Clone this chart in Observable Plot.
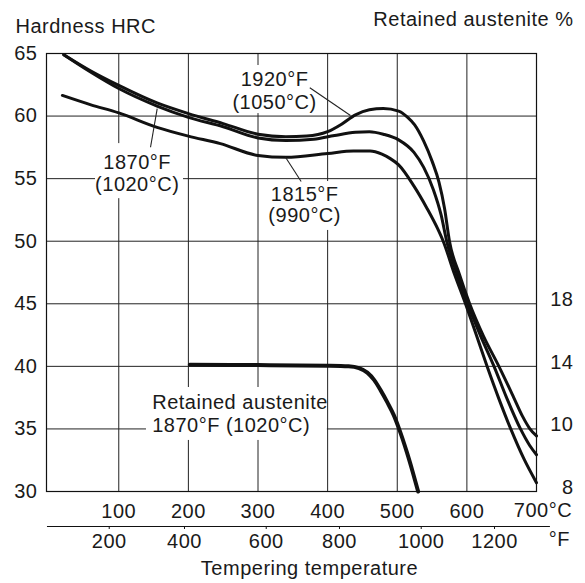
<!DOCTYPE html>
<html>
<head>
<meta charset="utf-8">
<script src="https://cdn.jsdelivr.net/npm/d3@7"></script>
<script src="https://cdn.jsdelivr.net/npm/@observablehq/plot@0.6"></script>
<style>
  html, body { margin: 0; padding: 0; background: #fff; }
</style>
</head>
<body>
<div id="chart"></div>
<script>
// ---------- data ----------
// Tempering temperature (°C) and hardness (HRC) for three austenitizing temperatures
const temp1920 = [21, 60, 100, 155, 200, 250, 300, 340, 370, 400, 420, 440, 460, 480, 502, 515, 525, 538, 550, 560, 568, 575, 589, 604, 624, 646, 667, 680, 690, 700];
const hrc1920  = [64.9, 63.6, 62.45, 61.05, 60.2, 59.4, 58.55, 58.35, 58.4, 58.75, 59.35, 60.1, 60.5, 60.6, 60.4, 59.9, 59.3, 58.0, 56.4, 54.7, 52.6, 50.0, 47.4, 45.0, 42.4, 40.0, 37.55, 36.0, 35.05, 34.44];

const temp1870 = [21, 60, 100, 155, 200, 250, 300, 340, 380, 410, 440, 460, 480, 502, 524, 538, 552, 563, 571, 585, 601, 620, 639, 657, 677, 690, 700];
const hrc1870  = [64.9, 63.5, 62.2, 60.8, 59.9, 59.15, 58.25, 58.05, 58.15, 58.45, 58.7, 58.75, 58.55, 58.1, 57.1, 55.9, 54.1, 52.1, 50.0, 47.5, 45.0, 42.4, 40.0, 37.5, 35.0, 33.7, 32.94];

const temp1815 = [19, 60, 100, 155, 200, 246, 300, 340, 400, 437, 461, 478, 490, 502, 524, 543, 558, 566, 582, 598, 613, 629, 646, 663, 682, 700];
const hrc1815  = [61.65, 60.9, 60.25, 59.1, 58.4, 57.8, 56.85, 56.7, 57.0, 57.2, 57.2, 56.95, 56.6, 56.1, 54.4, 52.6, 51.0, 50.0, 47.4, 45.0, 42.6, 40.0, 37.4, 35.0, 32.6, 30.7];

// Retained austenite (%) after hardening from 1870°F (1020°C)
const tempRA = [202, 300, 400, 430, 445, 457, 467, 476, 486, 495, 502, 514, 522, 530];
const pctRA  = [14.1, 14.08, 14.04, 14.0, 13.88, 13.6, 13.12, 12.48, 11.68, 10.88, 10.08, 9.24, 8.64, 8.0];

// Axes
const hrcTicks = [30, 35, 40, 45, 50, 55, 60, 65];
const hrcGrid = [35, 40, 45, 50, 55, 60];
const celsiusTicks = [100, 200, 300, 400, 500, 600];
const celsiusGrid = [100, 200, 300, 400, 500, 600];
const celsiusLast = [700];
const raTickLabels = [8, 10, 14, 18];        // right axis labels (%)
const raTickAtHrc = [30, 35, 40, 45];        // where they sit on the HRC grid
const fahrenheitLabels = [200, 400, 600, 800, 1000, 1200];
const fahrenheitAtC = [86.3, 194.4, 311.8, 417.0, 534.4, 639.7]; // as drawn on the reference

// ---------- build tables ----------
const curves = [
  {name: "1920°F", t: temp1920, v: hrc1920},
  {name: "1870°F", t: temp1870, v: hrc1870},
  {name: "1815°F", t: temp1815, v: hrc1815}
].flatMap(s => s.t.map((t, i) => ({series: s.name, t, hrc: s.v[i]})));

const raToHrc = d3.scaleLinear().domain(raTickLabels).range(raTickAtHrc);
const raCurve = tempRA.map((t, i) => ({t, hrc: raToHrc(pctRA[i])}));
const raLabelAt = new Map(raTickAtHrc.map((h, i) => [h, String(raTickLabels[i])]));
const fLabelAt = new Map(fahrenheitAtC.map((c, i) => [c, String(fahrenheitLabels[i])]));

// annotations
const labelBoxes = [
  {x1: 259, x2: 387, y1: 60.2, y2: 64.04},
  {x1: 66.6, x2: 193, y1: 53.4, y2: 57.8},
  {x1: 308, x2: 425.7, y1: 50.86, y2: 54.77},
  {x1: 139.8, x2: 399.6, y1: 34.08, y2: 38.31}
];
const leaders = [
  {x1: 374.4, y1: 62.26, x2: 432.8, y2: 60.05},
  {x1: 145.6, y1: 57.51, x2: 155.2, y2: 60.6},
  {x1: 339.5, y1: 56.71, x2: 362.0, y2: 54.77}
];
const centeredLabels = [
  {x: 323.7, y: 62.94, text: "1920°F"},
  {x: 323.7, y: 61.07, text: "(1050°C)"},
  {x: 126.5, y: 56.29, text: "1870°F"},
  {x: 126.5, y: 54.53, text: "(1020°C)"},
  {x: 367, y: 53.73, text: "1815°F"},
  {x: 367, y: 52.01, text: "(990°C)"}
];
const leftLabels = [
  {x: 148, y: 37.14, text: "Retained austenite"},
  {x: 148, y: 35.27, text: "1870°F (1020°C)"}
];

const ink = "#1a1a1a";

const chart = Plot.plot({
  width: 585,
  height: 583,
  marginLeft: 46,
  marginRight: 49,
  marginTop: 53,
  marginBottom: 92,
  x: {domain: [-3.8, 700], label: null},
  y: {domain: [30, 65], label: null},
  style: {
    fontFamily: "'Liberation Sans', Arial, Helvetica, sans-serif",
    fontSize: "20px",
    letterSpacing: "0.5px",
    color: ink,
    background: "#fff"
  },
  marks: [
    Plot.gridX(celsiusGrid, {stroke: "#222", strokeOpacity: 1, strokeWidth: 1}),
    Plot.gridY(hrcGrid, {stroke: "#222", strokeOpacity: 1, strokeWidth: 1}),
    Plot.rect(labelBoxes, {x1: "x1", x2: "x2", y1: "y1", y2: "y2", fill: "#fff"}),
    Plot.frame({stroke: "#111", strokeWidth: 1.2}),
    Plot.line(curves, {x: "t", y: "hrc", z: "series", stroke: "#111", strokeWidth: 3, curve: "monotone-x"}),
    Plot.line(raCurve, {x: "t", y: "hrc", stroke: "#111", strokeWidth: 4, curve: "monotone-x"}),
    Plot.link(leaders, {x1: "x1", y1: "y1", x2: "x2", y2: "y2", stroke: "#222", strokeWidth: 1.1}),
    Plot.text(centeredLabels, {x: "x", y: "y", text: "text", textAnchor: "middle", lineAnchor: "middle", fill: ink}),
    Plot.text(leftLabels, {x: "x", y: "y", text: "text", textAnchor: "start", lineAnchor: "middle", fill: ink}),
    // left HRC axis
    Plot.axisY(hrcTicks, {anchor: "left", tickSize: 0, tickPadding: 9, label: null}),
    // right retained austenite axis
    Plot.axisY(raTickAtHrc, {anchor: "right", tickSize: 0, tickPadding: 37, textAnchor: "end", dy: -4,
      tickFormat: d => raLabelAt.get(d), label: null}),
    // °C axis
    Plot.axisX(celsiusTicks, {anchor: "bottom", tickSize: 0, tickPadding: 12, tickFormat: d => String(d), label: null}),
    Plot.text(celsiusLast, {x: d => d, frameAnchor: "bottom", text: d => `${d}°C`, dx: 6.5, dy: 19.5, lineAnchor: "middle", fill: ink}),
    // °F axis
    Plot.ruleY([30], {x1: -2.4, x2: 720, dy: 35, stroke: "#111", strokeWidth: 1.2}),
    Plot.axisX(fahrenheitAtC, {anchor: "bottom", tickSize: 3, tickPadding: 4, dy: 35,
      tickFormat: d => fLabelAt.get(d), label: null, stroke: "#111"}),
    Plot.text(["°F"], {frameAnchor: "bottom-right", text: d => d, textAnchor: "start", dx: 12.3, dy: 48.5, lineAnchor: "middle", fill: ink}),
    // titles
    Plot.text(["Hardness HRC"], {frameAnchor: "top-left", text: d => d, textAnchor: "start", dx: -31, dy: -27.3, lineAnchor: "middle", fill: ink}),
    Plot.text(["Retained austenite %"], {frameAnchor: "top-right", text: d => d, textAnchor: "end", dx: 37, dy: -34.2, lineAnchor: "middle", fill: ink}),
    Plot.text(["Tempering temperature"], {frameAnchor: "bottom", text: d => d, textAnchor: "middle", dx: 18, dy: 77, lineAnchor: "middle", fill: ink})
  ]
});
document.getElementById("chart").append(chart);
</script>
</body>
</html>
